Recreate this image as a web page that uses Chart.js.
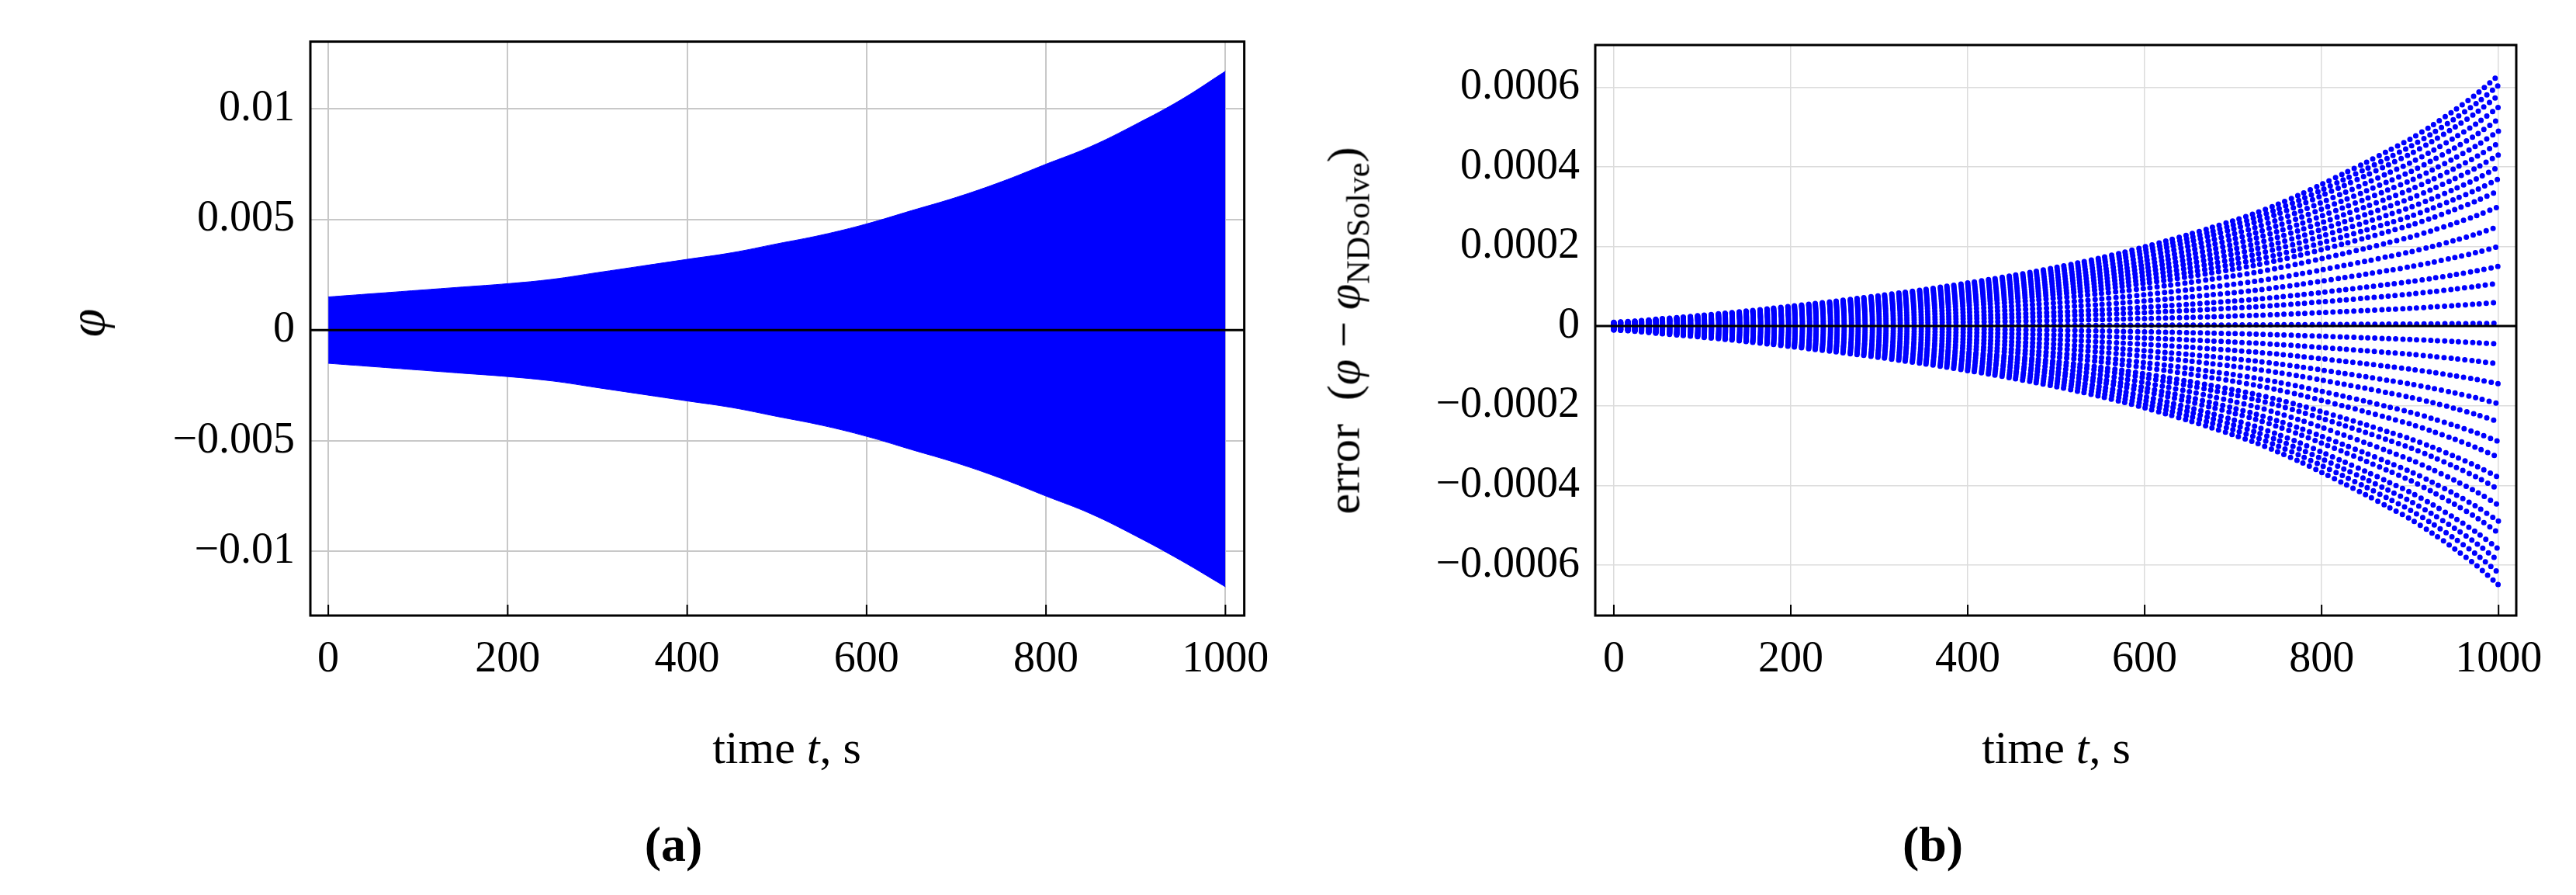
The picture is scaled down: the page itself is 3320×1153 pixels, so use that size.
<!DOCTYPE html>
<html>
<head>
<meta charset="utf-8">
<script src="https://cdn.jsdelivr.net/npm/chart.js@4"></script>
<style>
  body { margin: 0; background: #fff; width: 3320px; height: 1153px; overflow: hidden; position: relative; font-family: "Liberation Serif", serif; }
  .box { position: absolute; top: 0; width: 1660px; height: 1153px; }
  .lbl { position: absolute; font-size: 60px; white-space: nowrap; transform: translate(-50%, -50%); }
  .rot { transform: translate(-50%, -50%) rotate(-90deg); }
  .cap { font-weight: bold; font-size: 64px; }
</style>
</head>
<body>
<div class="box" style="left:0"><canvas id="chartA"></canvas></div>
<div class="box" style="left:1660px"><canvas id="chartB"></canvas></div>

<div class="lbl rot" style="left:112px; top:416px; font-style:italic; font-size:66px">φ</div>
<div class="lbl" style="left:1014px; top:963px">time <i>t</i>, s</div>
<div class="lbl cap" style="left:868px; top:1088px">(a)</div>

<div class="lbl rot" style="left:1736px; top:426px">error&nbsp;&nbsp;(<i>φ</i> − <i>φ</i><sub style="font-size:42px">NDSolve</sub>)</div>
<div class="lbl" style="left:2650px; top:963px">time <i>t</i>, s</div>
<div class="lbl cap" style="left:2491px; top:1088px">(b)</div>

<script>
// (a) oscillation envelope, sampled every 50 s
const envTimesA = [0, 50, 100, 150, 200, 250, 300, 350, 400, 450, 500, 550, 600, 650, 700, 750, 800, 850, 900, 950, 1000];
const upperA = [0.0015, 0.00165, 0.0018, 0.00195, 0.0021, 0.0023, 0.0026, 0.0029, 0.0032, 0.0035, 0.0039, 0.0043, 0.0048, 0.0054, 0.006, 0.0067, 0.0075, 0.0083, 0.0093, 0.0104, 0.0117];
const lowerA = [-0.0015, -0.00165, -0.0018, -0.00195, -0.0021, -0.0023, -0.0026, -0.0029, -0.0032, -0.0035, -0.0039, -0.0043, -0.0048, -0.0054, -0.006, -0.0067, -0.0075, -0.0083, -0.0093, -0.0104, -0.0116];
const yTicksA = [-0.01, -0.005, 0, 0.005, 0.01];

// (b) error growth shape every 25 s (normalized) and the level of each dotted strand at t = 1000
const envTimesB = [0, 25, 50, 75, 100, 125, 150, 175, 200, 225, 250, 275, 300, 325, 350, 375, 400, 425, 450, 475, 500, 525, 550, 575, 600, 625, 650, 675, 700, 725, 750, 775, 800, 825, 850, 875, 900, 925, 950, 975, 1000];
const growthB = [0.015, 0.02, 0.028, 0.035, 0.043, 0.051, 0.06, 0.069, 0.079, 0.089, 0.099, 0.11, 0.121, 0.133, 0.145, 0.158, 0.172, 0.186, 0.201, 0.217, 0.234, 0.252, 0.272, 0.293, 0.316, 0.34, 0.365, 0.392, 0.42, 0.45, 0.485, 0.523, 0.565, 0.608, 0.652, 0.698, 0.745, 0.8, 0.86, 0.925, 1.0];
const levelsB = [0.00063, 0.000605, 0.00058, 0.00055, 0.00052, 0.00049, 0.00046, 0.00043, 0.0004, 0.00037, 0.00034, 0.0003, 0.00025, 0.0002, 0.00015, 0.000108, 0.00006, 0.000007, -0.000045, -0.000095, -0.000145, -0.000195, -0.00024, -0.00029, -0.00033, -0.00038, -0.00041, -0.00045, -0.00049, -0.00052, -0.00056, -0.00059, -0.00062, -0.00065];
const yTicksB = [-0.0006, -0.0004, -0.0002, 0, 0.0002, 0.0004, 0.0006];
const xTicks = [0, 200, 400, 600, 800, 1000];

const font = { family: "Liberation Serif", size: 56 };

function fmt(v, digits) {
  if (v === 0) return "0";
  let s = Math.abs(v).toFixed(digits).replace(/0+$/, "");
  return (v < 0 ? "−" : "") + s;
}

const framePlugin = {
  id: "frame",
  afterDatasetsDraw(chart) {
    const { ctx, chartArea: a, scales } = chart;
    const y0 = scales.y.getPixelForValue(0);
    ctx.save();
    ctx.strokeStyle = "#000";
    ctx.lineWidth = 3;
    ctx.beginPath();
    ctx.moveTo(a.left, y0);
    ctx.lineTo(a.right, y0);
    ctx.stroke();
    ctx.strokeRect(a.left, a.top, a.right - a.left, a.bottom - a.top);
    // small tick marks along the bottom
    ctx.lineWidth = 2;
    xTicks.forEach((t) => {
      const x = scales.x.getPixelForValue(t);
      ctx.beginPath();
      ctx.moveTo(x, a.bottom);
      ctx.lineTo(x, a.bottom - 14);
      ctx.stroke();
    });
    ctx.restore();
  },
};

function scalesFor(xmin, xmax, ymin, ymax, yTicks, digits, yWidth, gridColor, gridWidth) {
  return {
    x: {
      type: "linear",
      min: xmin,
      max: xmax,
      afterBuildTicks: (s) => { s.ticks = xTicks.map((v) => ({ value: v })); },
      afterFit: (s) => { s.height = 360; },
      grid: { color: gridColor, lineWidth: gridWidth, drawTicks: false },
      border: { display: false },
      ticks: { font, color: "#000", padding: 24, callback: (v) => String(v), maxRotation: 0 },
    },
    y: {
      min: ymin,
      max: ymax,
      afterBuildTicks: (s) => { s.ticks = yTicks.map((v) => ({ value: v })); },
      afterFit: (s) => { s.width = yWidth; },
      grid: { color: gridColor, lineWidth: gridWidth, drawTicks: false },
      border: { display: false },
      ticks: { font, color: "#000", padding: 20, callback: (v) => fmt(v, digits) },
    },
  };
}

new Chart(document.getElementById("chartA"), {
  type: "line",
  data: {
    labels: envTimesA,
    datasets: [
      { data: envTimesA.map((t, i) => ({ x: t, y: upperA[i] })), borderColor: "#0000ff", borderWidth: 1, pointRadius: 0, tension: 0.4, fill: false },
      { data: envTimesA.map((t, i) => ({ x: t, y: lowerA[i] })), borderColor: "#0000ff", borderWidth: 1, pointRadius: 0, tension: 0.4, backgroundColor: "#0000ff", fill: "-1" },
    ],
  },
  options: {
    responsive: true,
    maintainAspectRatio: false,
    devicePixelRatio: 1,
    animation: false,
    layout: { padding: { top: 34, right: 32, left: 0, bottom: 0 } },
    plugins: { legend: { display: false }, tooltip: { enabled: false } },
    scales: scalesFor(-20, 1021, -0.0129, 0.01304, yTicksA, 3, 400, "#c8c8c8", 2),
  },
  plugins: [framePlugin],
});

new Chart(document.getElementById("chartB"), {
  type: "line",
  data: {
    datasets: levelsB.map((lv) => ({
      data: envTimesB.map((t, i) => ({ x: t, y: lv * growthB[i] })),
      borderColor: "#0000ff",
      borderWidth: 7,
      borderDash: [0, 9],
      borderCapStyle: "round",
      pointRadius: 0,
      tension: 0.3,
      fill: false,
    })),
  },
  options: {
    responsive: true,
    maintainAspectRatio: false,
    devicePixelRatio: 1,
    animation: false,
    layout: { padding: { top: 58, right: 77, left: 0, bottom: 0 } },
    plugins: { legend: { display: false }, tooltip: { enabled: false } },
    scales: scalesFor(-21, 1020, -0.000727, 0.000706, yTicksB, 4, 396, "#dcdcdc", 1.5),
  },
  plugins: [framePlugin],
});
</script>
</body>
</html>
